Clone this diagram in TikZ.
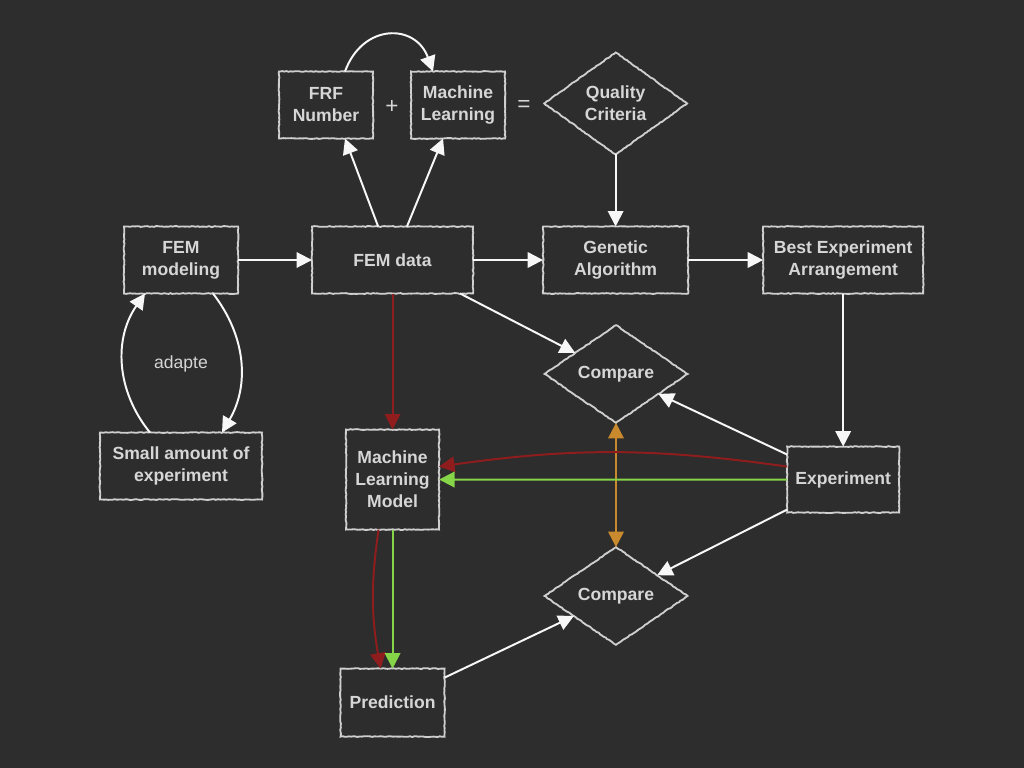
\documentclass[tikz,border=0pt]{standalone}
\usepackage{fontspec}
\setmainfont{Liberation Sans}
\usepackage{tikz}
\usetikzlibrary{arrows.meta,positioning,shapes.geometric,decorations.pathmorphing}
\definecolor{board}{HTML}{2D2D2D}
\definecolor{chalk}{HTML}{CFCFCF}
\definecolor{chalkText}{HTML}{D6D6D6}
\definecolor{chalkRed}{HTML}{8F1D1D}
\definecolor{chalkGreen}{HTML}{86D447}
\definecolor{chalkOrange}{HTML}{C98A2E}

\begin{document}
\begin{tikzpicture}[x=0.025cm, y=-0.025cm,
  box/.style={draw=chalk, line width=1.3pt, minimum height=1.675cm, align=center,
              inner sep=1pt, outer sep=0pt, text=chalkText,
              font=\fontsize{12.5}{15.6}\selectfont\bfseries,
              decorate, decoration={random steps, segment length=1.5pt, amplitude=0.3pt}},
  dia/.style={box, diamond, minimum width=3.575cm},
  arr/.style={-{Triangle[length=11pt, width=11pt]}, line width=1.4pt, white!94!gray},
  redarr/.style={arr, chalkRed},
  greenarr/.style={arr, chalkGreen},
  lbl/.style={text=chalkText, font=\fontsize{12.5}{15}\selectfont}
]
  \fill[board] (0,0) rectangle (1024,768);

  \node[box, minimum width=2.85cm]  (femmod) at (181,260) {FEM\\modeling};
  \node[box, minimum width=4.025cm, right=1.85cm of femmod]  (femdata) {FEM data};
  \node[box, minimum width=3.625cm, right=1.75cm of femdata] (genalg) {Genetic\\Algorithm};
  \node[box, minimum width=4cm, right=1.875cm of genalg]     (best) {Best Experiment\\Arrangement};
  \node[dia, minimum height=2.5cm, above=1.8cm of genalg]    (quality) {Quality\\Criteria};
  \node[box, minimum width=2.35cm] (frf) at (326,105) {FRF\\Number};
  \node[box, minimum width=2.35cm, right=0.95cm of frf] (mltop) {Machine\\Learning};
  \node[lbl, font=\fontsize{16}{16}\selectfont] (plus) at (392,107) {+};
  \node[lbl, font=\fontsize{16}{16}\selectfont] (equals) at (524,106) {=};
  \node[box, minimum width=4.05cm, below=3.475cm of femmod] (small) {Small amount of\\experiment};
  \node[box, minimum width=2.325cm, minimum height=2.5cm, below=3.4cm of femdata] (mlmodel)
    {Machine\\Learning\\Model};
  \node[box, minimum width=2.6cm, minimum height=1.7cm, below=3.475cm of mlmodel] (pred) {Prediction};
  \node[box, minimum width=2.8cm, minimum height=1.65cm, below=3.825cm of best] (exper) {Experiment};
  \node[dia, minimum height=2.025cm] (cmptop) at (616,374) {Compare};
  \node[dia, minimum height=2.025cm] (cmpbot) at (616,596) {Compare};
  \node[lbl] (adapte) at (181,364) {adapte};

  \draw[arr] ([xshift=0.475cm]frf.north) to[out=70, in=110, looseness=1.5] ([xshift=-0.625cm]mltop.north);
  \draw[arr] ([xshift=-0.36cm]femdata.north) -- ([xshift=0.475cm]frf.south);
  \draw[arr] ([xshift=0.36cm]femdata.north)  -- ([xshift=-0.375cm]mltop.south);
  \draw[arr] (quality.south) -- (genalg.north);
  \draw[arr] (femmod)  -- (femdata);
  \draw[arr] (femdata) -- (genalg);
  \draw[arr] (genalg)  -- (best);
  \draw[arr] (best.south) -- (exper.north);
  \draw[arr] ([xshift=-0.325cm]femdata.south east) -- (cmptop);
  \draw[arr] ([yshift=-0.2cm]exper.north west) -- (cmptop);
  \draw[arr] ([yshift=0.075cm]exper.south west) -- (cmpbot);
  \draw[arr] ([yshift=-0.225cm]pred.north east) -- (cmpbot);
  \draw[arr] ([xshift=0.8cm]femmod.south) to[bend left=34] ([xshift=1.025cm]small.north);
  \draw[arr] ([xshift=-0.775cm]small.north) to[bend left=37] ([xshift=-0.9cm]femmod.south);
  \draw[arr, chalkOrange, {Triangle[length=11pt, width=11pt]}-{Triangle[length=11pt, width=11pt]}]
    (cmptop.south) -- (cmpbot.north);
  \draw[redarr] (femdata.south) -- (femdata.south |- mlmodel.north);
  \draw[redarr] ([yshift=0.325cm]exper.west) to[bend right=8] ([yshift=0.325cm]mlmodel.east);
  \draw[greenarr] (exper.west) -- (mlmodel.east);
  \draw[redarr] ([xshift=-0.35cm]mlmodel.south) to[bend right=9] ([xshift=-0.3cm]pred.north);
  \draw[greenarr] (mlmodel.south) -- (pred.north);
\end{tikzpicture}
\end{document}
